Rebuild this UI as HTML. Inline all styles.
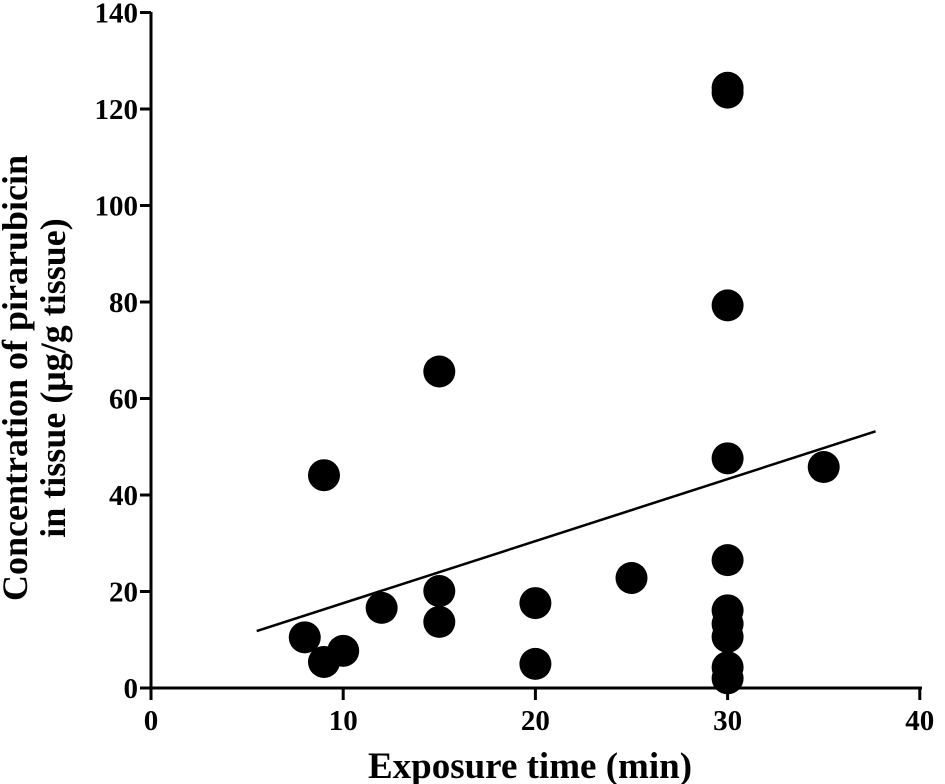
<!DOCTYPE html>
<html><head><meta charset="utf-8"><style>
body{margin:0;background:#fff;}
svg{display:block;font-family:"Liberation Serif",serif;font-weight:bold;}
</style></head><body>
<svg id="c" width="945" height="784"></svg>
<script>
const xs=[8,9,10,9,12,15,15,15,20,20,25,30,30,30,30,30,30,30,30,30,30,35];
const ys=[10.5,5.4,7.7,44.1,16.6,65.6,20.1,13.7,17.6,5.0,22.8,124.4,123.4,79.3,47.6,26.5,16.1,13.3,10.6,4.3,2.0,45.8];
const xTicks=[0,10,20,30,40];
const yTicks=[0,20,40,60,80,100,120,140];
const fitLine=[[5.5,11.8],[37.7,53.2]];
const NS="http://www.w3.org/2000/svg";
const svg=document.getElementById('c');
const X=v=>151+v*19.22, Y=v=>688-v*4.825;
function el(t,a,p){const e=document.createElementNS(NS,t);for(const k in a)e.setAttribute(k,a[k]);(p||svg).appendChild(e);return e;}
let g=el('g',{});


el('line',{x1:151,y1:12,x2:151,y2:688,stroke:'#000','stroke-width':3},g);
el('line',{x1:140,y1:688,x2:922,y2:688,stroke:'#000','stroke-width':3},g);
xTicks.forEach(t=>{el('line',{x1:X(t),y1:688,x2:X(t),y2:700,stroke:'#000','stroke-width':3},g);
 const tx=el('text',{x:X(t),y:730,'text-anchor':'middle','font-size':29},g);tx.textContent=t;
 
 });
yTicks.forEach(t=>{el('line',{x1:140,y1:Y(t),x2:151,y2:Y(t),stroke:'#000','stroke-width':3},g);
 const tx=el('text',{x:138,y:Y(t)+10,'text-anchor':'end','font-size':29},g);tx.textContent=t;
 
 });
xs.forEach((x,i)=>{const c=el('circle',{cx:X(x),cy:Y(ys[i]),r:16,fill:'#000'});
 
 });
const ln=el('line',{x1:X(fitLine[0][0]),y1:Y(fitLine[0][1]),x2:X(fitLine[1][0]),y2:Y(fitLine[1][1]),stroke:'#000','stroke-width':2.5});


const xt=el('text',{x:530,y:778,'text-anchor':'middle','font-size':37});xt.textContent='Exposure  time (min)';


const yt=el('text',{transform:'translate(27,378) rotate(-90)','text-anchor':'middle','font-size':36});


el('tspan',{x:0,dy:0},yt).textContent='Concentration  of  pirarubicin';
el('tspan',{x:0,dy:38},yt).textContent='in tissue  (μg/g tissue)';
</script>
</body></html>
